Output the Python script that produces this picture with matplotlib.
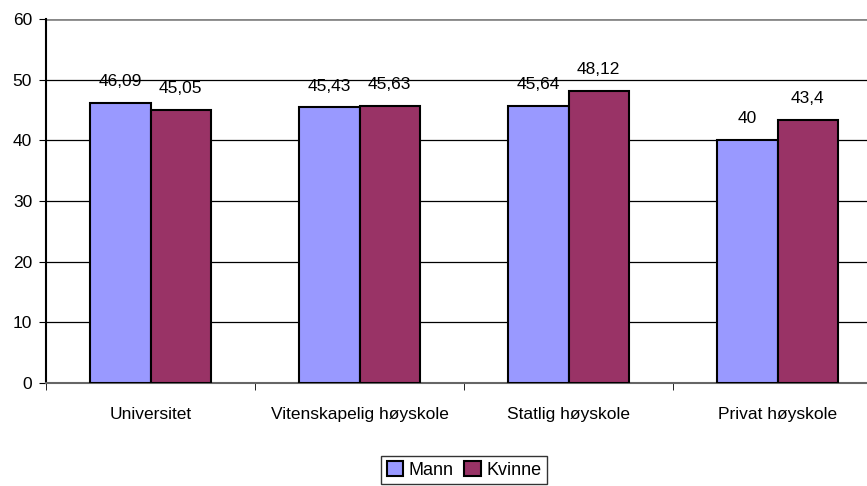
import numpy as np
import matplotlib.pyplot as plt

categories = ['Universitet', 'Vitenskapelig høyskole', 'Statlig høyskole', 'Privat høyskole']
mann = [46.09, 45.43, 45.64, 40]
kvinne = [45.05, 45.63, 48.12, 43.4]
mann_labels = ['46,09', '45,43', '45,64', '40']
kvinne_labels = ['45,05', '45,63', '48,12', '43,4']

plt.rcParams['font.family'] = ['Liberation Sans', 'DejaVu Sans']
fs = 12.5

fig = plt.figure(figsize=(8.67, 4.86), dpi=100)
# plot area runs a little past the right edge of the image, as in the original
ax = fig.add_axes([46 / 867, 1 - 383 / 486, 836 / 867, (383 - 19) / 486])

x = np.arange(len(categories))
w = 0.288
b1 = ax.bar(x - w / 2, mann, w, color='#9999FF', edgecolor='black', linewidth=1.5, label='Mann', zorder=3)
b2 = ax.bar(x + w / 2, kvinne, w, color='#993366', edgecolor='black', linewidth=1.5, label='Kvinne', zorder=3)
ax.bar_label(b1, labels=mann_labels, padding=10, fontsize=fs)
ax.bar_label(b2, labels=kvinne_labels, padding=10, fontsize=fs)

ax.set_xlim(-0.5, len(categories) - 0.5)
ax.set_ylim(0, 60)
ax.set_yticks(range(0, 61, 10))
for yv in range(10, 60, 10):
    ax.axhline(yv, color='black', linewidth=0.9, zorder=1)
ax.axhline(60, color='#888888', linewidth=2, zorder=1)

ax.set_xticks(x)
ax.set_xticklabels(categories, fontsize=fs)
ax.tick_params(axis='x', length=0, pad=17)
ax.set_xticks(np.arange(-0.5, len(categories), 1), minor=True)
ax.tick_params(axis='x', which='minor', length=5, direction='out', color='black')
ax.tick_params(axis='y', length=5, direction='out', labelsize=fs, pad=5)

for s in ['top', 'right']:
    ax.spines[s].set_visible(False)
ax.spines['left'].set_linewidth(1.5)
ax.spines['bottom'].set_color('#666666')
ax.spines['bottom'].set_linewidth(1.5)

leg = fig.legend(loc='center', bbox_to_anchor=(464 / 867, 1 - 470 / 486), ncol=2,
                 fontsize=fs + 0.5, frameon=True, fancybox=False, edgecolor='black',
                 handlelength=0.9, handleheight=0.9, handletextpad=0.3, columnspacing=0.6,
                 borderpad=0.3)
leg.get_frame().set_linewidth(1.0)

fig.savefig('out.png', dpi=100)
